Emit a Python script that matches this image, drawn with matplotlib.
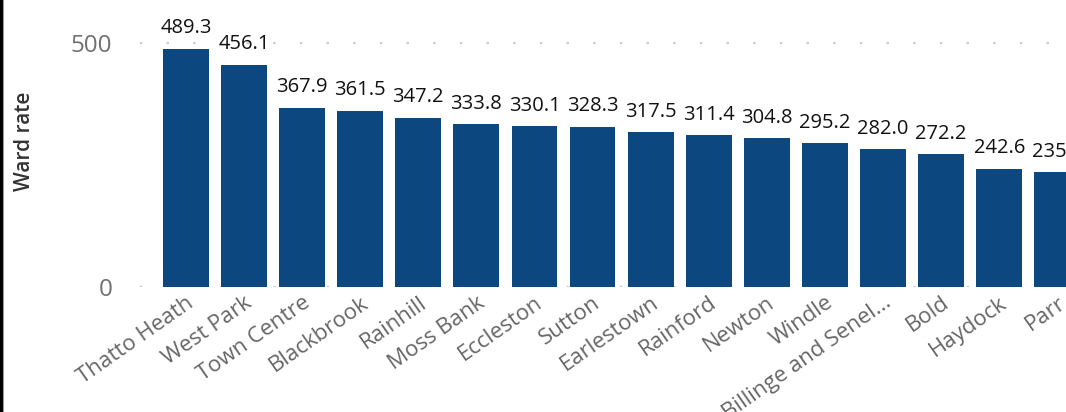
import matplotlib.pyplot as plt
from matplotlib.lines import Line2D
from matplotlib.transforms import ScaledTranslation

wards = ['Thatto Heath', 'West Park', 'Town Centre', 'Blackbrook', 'Rainhill',
         'Moss Bank', 'Eccleston', 'Sutton', 'Earlestown', 'Rainford', 'Newton',
         'Windle', 'Billinge and Senel...', 'Bold', 'Haydock', 'Parr']
rates = [489.3, 456.1, 367.9, 361.5, 347.2, 333.8, 330.1, 328.3, 317.5,
         311.4, 304.8, 295.2, 282.0, 272.2, 242.6, 235.6]
labels = ['489.3', '456.1', '367.9', '361.5', '347.2', '333.8', '330.1', '328.3',
          '317.5', '311.4', '304.8', '295.2', '282.0', '272.2', '242.6', '235.6']
yticks = [0, 500]

plt.rcParams['font.family'] = ['Open Sans', 'DejaVu Sans']

fig = plt.figure(figsize=(10.66, 4.12), dpi=100)
ax = fig.add_axes([140 / 1066, (412 - 286.7) / 412, 1 - 140 / 1066, 286.7 / 412])

x = range(len(wards))
ax.bar(x, rates, width=0.79, color='#0C4780', zorder=2)
for xi, v, t in zip(x, rates, labels):
    ax.annotate(t, (xi, v), xytext=(0, 7.5), textcoords='offset points',
                ha='center', va='bottom', fontsize=14.5, color='#111111',
                annotation_clip=False)

ax.set_xlim(-0.79, 15.15)
ax.set_ylim(0, 589)
ax.set_yticks(yticks)
ax.set_yticklabels([str(t) for t in yticks], fontsize=17.5, color='#707070')
ax.set_xticks(list(x))
ax.set_xticklabels(wards, rotation=35, ha='right', rotation_mode='anchor',
                   fontsize=16, color='#666666')
shift = ScaledTranslation(-10 / 100, 0, fig.dpi_scale_trans)
for lab in ax.get_xticklabels():
    lab.set_transform(lab.get_transform() + shift)
ax.tick_params(axis='both', length=0)
ax.tick_params(axis='y', pad=20)
ax.tick_params(axis='x', pad=4)
ax.grid(axis='y', color='#C8C8C8', linestyle=(0, (1, 11)), linewidth=1.6, zorder=0)
for s in ax.spines.values():
    s.set_visible(False)

fig.text(25 / 1066, 1 - 141 / 412, 'Ward rate', rotation=90, ha='center', va='center',
         fontsize=15, fontweight='semibold', color='#333333')

fig.add_artist(Line2D([1 / 1066, 1 / 1066], [0, 1], color='black', linewidth=2.2))
fig.add_artist(Line2D([3 / 1066, 3 / 1066], [0, 1], color='#999999', linewidth=0.8))

fig.savefig('out.png', dpi=100, facecolor='white')
